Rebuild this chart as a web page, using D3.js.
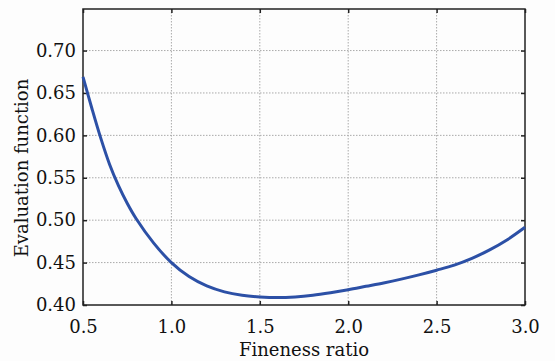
<!DOCTYPE html>
<html>
<head>
<meta charset="utf-8">
<script src="https://cdn.jsdelivr.net/npm/d3@7"></script>
<style>
  body { margin: 0; background: #fdfdfd; }
  svg { display: block; }
  .tick text { font-family: 'DejaVu Serif', serif; font-size: 18px; fill: #111; }
  .label { font-family: 'DejaVu Serif', serif; font-size: 18px; fill: #111; }
</style>
</head>
<body>
<div id="container"></div>
<script>
// values
const fineness = [0.50, 0.55, 0.60, 0.65, 0.70, 0.75, 0.80, 0.90, 1.00, 1.10, 1.20, 1.30, 1.40, 1.50,
  1.60, 1.70, 1.80, 1.90, 2.00, 2.10, 2.20, 2.30, 2.40, 2.50, 2.60, 2.70, 2.80, 2.90, 3.00]
const evaluation = [0.669, 0.632, 0.597, 0.566, 0.541, 0.520, 0.502, 0.473, 0.450, 0.4335, 0.4225, 0.4155, 0.4115, 0.4095,
  0.4087, 0.4095, 0.4115, 0.4145, 0.418, 0.422, 0.426, 0.4305, 0.4355, 0.441, 0.447, 0.455, 0.465, 0.477, 0.4916]
const xTicks = [0.5, 1.0, 1.5, 2.0, 2.5, 3.0]
const yTicks = [0.40, 0.45, 0.50, 0.55, 0.60, 0.65, 0.70]

const w = 555
const h = 361
const margin = { top: 9, right: 30, bottom: 56, left: 83 }

const data = fineness.map((x, i) => ({ x: x, y: evaluation[i] }))

const xScale = d3.scaleLinear()
  .domain([0.5, 3.0])
  .range([margin.left, w - margin.right])

const yScale = d3.scaleLinear()
  .domain([0.40, 0.749])
  .range([h - margin.bottom, margin.top])

const svg = d3.select('div#container')
  .append('svg')
  .attr('width', w)
  .attr('height', h)

// grid
svg.append('g')
  .selectAll('line')
  .data(xTicks.slice(1, -1))
  .enter().append('line')
  .attr('x1', d => xScale(d))
  .attr('x2', d => xScale(d))
  .attr('y1', margin.top)
  .attr('y2', h - margin.bottom)
  .attr('stroke', '#aaa')
  .attr('stroke-dasharray', '1.5,1.5')

svg.append('g')
  .selectAll('line')
  .data(yTicks.slice(1))
  .enter().append('line')
  .attr('x1', margin.left)
  .attr('x2', w - margin.right)
  .attr('y1', d => yScale(d))
  .attr('y2', d => yScale(d))
  .attr('stroke', '#aaa')
  .attr('stroke-dasharray', '1.5,1.5')

const xAxis = d3.axisBottom(xScale)
  .tickValues(xTicks)
  .tickFormat(d3.format('.1f'))
  .tickSize(-4)
  .tickPadding(15)

const yAxis = d3.axisLeft(yScale)
  .tickValues(yTicks)
  .tickFormat(d3.format('.2f'))
  .tickSize(-4)
  .tickPadding(7)

const styleTicks = g => {
  g.select('.domain').remove()
  g.selectAll('.tick line').attr('stroke', '#222').attr('stroke-width', 1.5)
}

svg.append('g')
  .attr('transform', 'translate(0,' + (h - margin.bottom) + ')')
  .call(xAxis)
  .call(styleTicks)

svg.append('g')
  .attr('transform', 'translate(' + margin.left + ',0)')
  .call(yAxis)
  .call(styleTicks)

// mirrored ticks on top and right
svg.append('g')
  .attr('transform', 'translate(0,' + margin.top + ')')
  .call(d3.axisTop(xScale).tickValues(xTicks).tickSize(-4).tickFormat(''))
  .call(styleTicks)

svg.append('g')
  .attr('transform', 'translate(' + (w - margin.right) + ',0)')
  .call(d3.axisRight(yScale).tickValues(yTicks).tickSize(-4).tickFormat(''))
  .call(styleTicks)

// frame
svg.append('rect')
  .attr('x', margin.left)
  .attr('y', margin.top)
  .attr('width', w - margin.left - margin.right)
  .attr('height', h - margin.top - margin.bottom)
  .attr('fill', 'none')
  .attr('stroke', '#222')
  .attr('stroke-width', 1.5)

const line = d3.line()
  .x(d => xScale(d.x))
  .y(d => yScale(d.y))
  .curve(d3.curveCatmullRom.alpha(0.5))

svg.append('path')
  .datum(data)
  .attr('d', line)
  .attr('fill', 'none')
  .attr('stroke', '#2c50a6')
  .attr('stroke-width', 3)

svg.append('text')
  .attr('class', 'label')
  .attr('x', (margin.left + w - margin.right) / 2)
  .attr('y', 356)
  .attr('text-anchor', 'middle')
  .text('Fineness ratio')

svg.append('text')
  .attr('class', 'label')
  .attr('transform', 'rotate(-90)')
  .attr('x', -168)
  .attr('y', 28)
  .attr('text-anchor', 'middle')
  .text('Evaluation function')
</script>
</body>
</html>
